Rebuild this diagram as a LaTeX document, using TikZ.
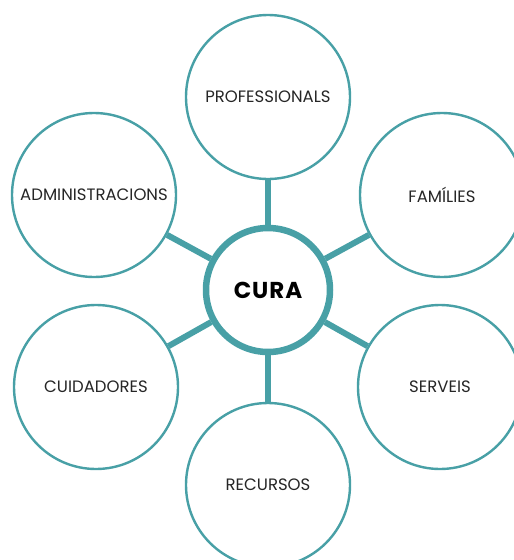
\documentclass[tikz,border=0pt]{standalone}
\usepackage{fontspec}
\setmainfont{Poppins}
\definecolor{teal}{RGB}{72,160,166}
\tikzset{
  satellit/.style={circle, draw=teal, line width=2.4pt, fill=white,
    minimum size=164pt, inner sep=0pt, text=black!85,
    font=\fontsize{16.5}{18}\selectfont},
  nucli/.style={circle, draw=teal, line width=6.5pt, fill=white,
    minimum size=124pt, inner sep=0pt,
    font=\bfseries\fontsize{23}{26}\selectfont\addfontfeatures{LetterSpace=4}},
  braç/.style={draw=teal, line width=6pt}
}
\begin{document}
\begin{tikzpicture}[x=1pt, y=-1pt]
  \useasboundingbox (0,0) rectangle (514,560);
%  el centre i els sis cercles
  \node[nucli] (cura) at (268,290) {CURA};
  \node[satellit] (prof) at (268,97) {PROFESSIONALS};
  \node[satellit] (admin) at (94,195) {ADMINISTRACIONS};
  \node[satellit] (fam) at (442,195) {FAMÍLIES};
  \node[satellit] (cuid) at (96,387) {CUIDADORES};
  \node[satellit] (serv) at (440,387) {SERVEIS};
  \node[satellit] (recu) at (268,485) {RECURSOS};
%  braços
  \foreach \s in {prof,admin,fam,cuid,serv,recu}
    \draw[braç] (cura) -- (\s);
\end{tikzpicture}
\end{document}
